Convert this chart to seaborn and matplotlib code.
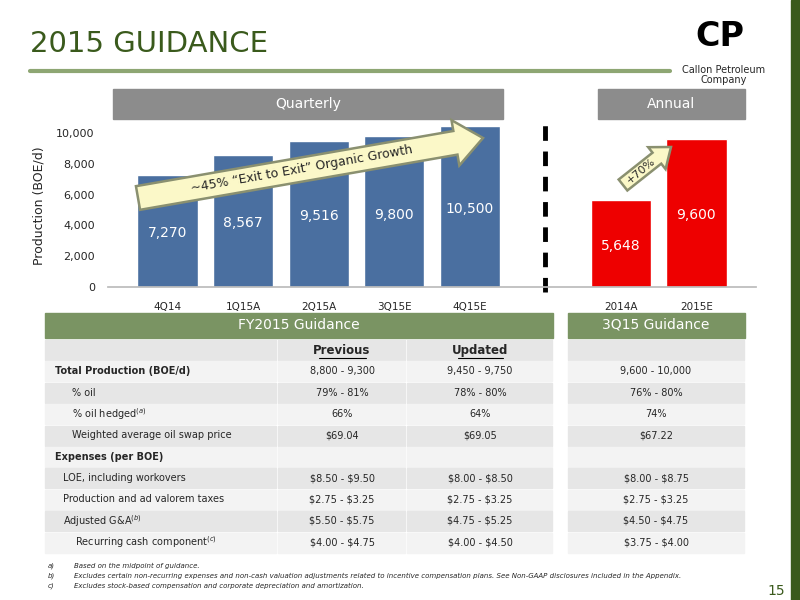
import numpy as np
import pandas as pd
import matplotlib
matplotlib.use("Agg")
import matplotlib.pyplot as plt
from matplotlib.patches import Rectangle, FancyArrow
import seaborn as sns

# data
periods = ["4Q14", "1Q15A", "2Q15A", "3Q15E", "4Q15E", "", "2014A", "2015E"]
production = [7270, 8567, 9516, 9800, 10500, 0, 5648, 9600]
bar_colors = ["#4a6fa0"] * 5 + ["#ffffff"] + ["#ee0000"] * 2
label_y = [3500, 4150, 4600, 4680, 5060, 0, 2660, 4680]

row_labels = ["Total Production (BOE/d)", "% oil", "% oil hedged", "Weighted average oil swap price",
              "Expenses (per BOE)", "LOE, including workovers", "Production and ad valorem taxes",
              "Adjusted G&A", "Recurring cash component"]
row_sup = ["", "", "(a)", "", "", "", "", "(b)", "(c)"]
row_indent = [55, 72, 72, 72, 55, 63, 63, 63, 75]
row_bold = [True, False, False, False, True, False, False, False, False]
previous = ["8,800 - 9,300", "79% - 81%", "66%", "$69.04", "", "$8.50 - $9.50", "$2.75 - $3.25",
            "$5.50 - $5.75", "$4.00 - $4.75"]
updated = ["9,450 - 9,750", "78% - 80%", "64%", "$69.05", "", "$8.00 - $8.50", "$2.75 - $3.25",
           "$4.75 - $5.25", "$4.00 - $4.50"]
q3_guidance = ["9,600 - 10,000", "76% - 80%", "74%", "$67.22", "", "$8.00 - $8.75", "$2.75 - $3.25",
               "$4.50 - $4.75", "$3.75 - $4.00"]
footnotes = [("a)", "Based on the midpoint of guidance."),
             ("b)", "Excludes certain non-recurring expenses and non-cash valuation adjustments related to incentive compensation plans. See Non-GAAP disclosures included in the Appendix."),
             ("c)", "Excludes stock-based compensation and corporate depreciation and amortization.")]

sns.set_theme(style="white")
plt.rcParams['font.family'] = ['DejaVu Sans']
W, H = 800, 600
fig = plt.figure(figsize=(8, 6), dpi=100)


def esc(s):
    return s.replace("$", r"\$")


# overlay in pixel coordinates (background)
ov = fig.add_axes([0, 0, 1, 1])
ov.set_xlim(0, W)
ov.set_ylim(H, 0)
ov.axis("off")

GREEN_DARK = "#3a5a1c"
GREEN_HEAD = "#7a9463"

ov.add_patch(Rectangle((791, 0), 9, 600, color=GREEN_DARK))
ov.text(30, 44, "2015 GUIDANCE", fontsize=21, color=GREEN_DARK, va="center", ha="left")
ov.plot([30, 670], [71, 71], color="#8ea673", lw=3)
# logo
ov.text(720, 36, "CP", fontsize=24, fontweight="bold", color="black", ha="center", va="center")
ov.text(724, 75, "Callon Petroleum\nCompany", fontsize=7, ha="center", va="center", linespacing=0.9)

# headers
ov.add_patch(Rectangle((113, 89), 390, 30, color="#8c8c8c"))
ov.text(308, 104, "Quarterly", color="white", fontsize=10, ha="center", va="center")
ov.add_patch(Rectangle((598, 89), 147, 30, color="#8c8c8c"))
ov.text(671, 104, "Annual", color="white", fontsize=10, ha="center", va="center")

# bar chart
ax = fig.add_axes([108 / W, 1 - 287 / H, (756 - 108) / W, (287 - 124) / H])
ax.patch.set_alpha(0)
df = pd.DataFrame({"period": periods, "production": production})
sns.barplot(data=df, x="period", y="production", hue="period", palette=bar_colors,
            order=periods, legend=False, width=0.8, saturation=1, ax=ax)
ax.set_ylim(0, 10600)
ax.set_yticks(range(0, 10001, 2000))
ax.set_yticklabels([f"{v:,}" for v in range(0, 10001, 2000)], fontsize=8)
ax.tick_params(axis="x", labelsize=7.5, pad=5)
ax.set_xlabel("")
ax.set_ylabel("Production (BOE/d)", fontsize=9, labelpad=8)
for s in ["top", "right", "left"]:
    ax.spines[s].set_visible(False)
ax.spines["bottom"].set_color("#bbbbbb")
for i, (v, ly) in enumerate(zip(production, label_y)):
    if v:
        ax.text(i, ly, f"{v:,}", color="white", fontsize=10, ha="center", va="center")
ax.plot([5, 5], [-300, 10900], color="black", lw=3.5, ls=(0, (3, 2.2)), clip_on=False)

# top overlay for arrows and table
top = fig.add_axes([0, 0, 1, 1])
top.set_xlim(0, W)
top.set_ylim(H, 0)
top.axis("off")
top.patch.set_alpha(0)

top.add_patch(FancyArrow(138, 198, 345, -60, width=24, head_width=46, head_length=28,
                         length_includes_head=True, fc="#fbf8c8", ec="#8a9070", lw=1.8))
top.text(302, 169, "~45% \u201cExit to Exit\u201d Organic Growth", rotation=10, fontsize=9,
         ha="center", va="center")
top.add_patch(FancyArrow(623, 185, 48, -38, width=14, head_width=28, head_length=18,
                         length_includes_head=True, fc="#fbf8c8", ec="#8a9070", lw=1.8))
top.text(641, 171, "+70%", rotation=40, fontsize=8, ha="center", va="center")

# table
top.add_patch(Rectangle((45, 313), 508, 25, color=GREEN_HEAD))
top.text(299, 325, "FY2015 Guidance", color="white", fontsize=10, ha="center", va="center")
top.add_patch(Rectangle((568, 313), 177, 25, color=GREEN_HEAD))
top.text(656, 325, "3Q15 Guidance", color="white", fontsize=10, ha="center", va="center")

cols = [(45, 277), (278, 406), (407, 553), (568, 745)]
row_top = 340
row_h = 21.4
n_rows = len(row_labels) + 1
for r in range(n_rows):
    y0 = row_top + r * row_h
    fc = "#e6e6e6" if r % 2 == 0 else "#f3f3f3"
    for (x0, x1) in cols:
        top.add_patch(Rectangle((x0, y0), x1 - x0 - 1, row_h - 1.5, color=fc))
yc = row_top + row_h / 2
top.text(342, yc, "Previous", fontsize=8.5, fontweight="bold", ha="center", va="center")
top.plot([319, 366], [yc + 7, yc + 7], color="black", lw=0.8)
top.text(480, yc, "Updated", fontsize=8.5, fontweight="bold", ha="center", va="center")
top.plot([458, 503], [yc + 7, yc + 7], color="black", lw=0.8)
for r in range(len(row_labels)):
    yc = row_top + (r + 1) * row_h + row_h / 2 - 1
    lab = esc(row_labels[r]) + (f"$^{{{row_sup[r]}}}$" if row_sup[r] else "")
    top.text(row_indent[r], yc, lab, fontsize=7, fontweight="bold" if row_bold[r] else "normal",
             ha="left", va="center")
    top.text(342, yc, esc(previous[r]), fontsize=7, ha="center", va="center")
    top.text(480, yc, esc(updated[r]), fontsize=7, ha="center", va="center")
    top.text(656, yc, esc(q3_guidance[r]), fontsize=7, ha="center", va="center")

for i, (k, t) in enumerate(footnotes):
    top.text(48, 566 + i * 10, k, fontsize=5, style="italic", va="center")
    top.text(74, 566 + i * 10, t, fontsize=5, style="italic", va="center")
top.text(785, 591, "15", fontsize=10, color=GREEN_DARK, ha="right", va="center")

fig.savefig("out.png", dpi=100)
